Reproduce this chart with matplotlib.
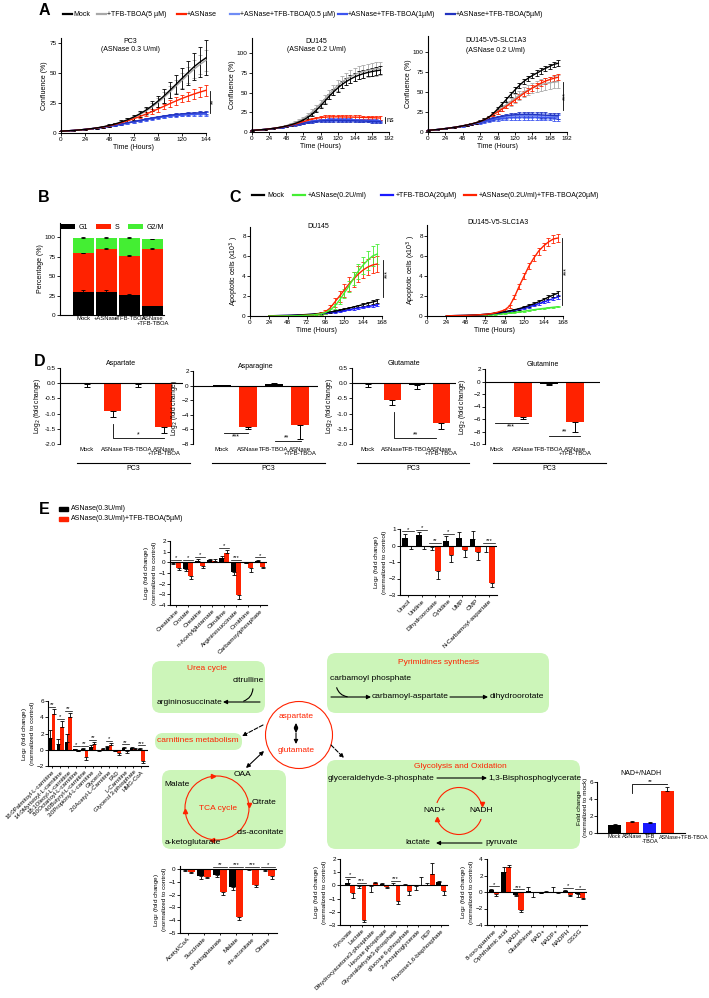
import numpy as np
import matplotlib
matplotlib.use('Agg')
import matplotlib.pyplot as plt
from matplotlib.patches import FancyBboxPatch, Circle, Arc

plt.rcParams['font.family'] = ['Liberation Sans', 'DejaVu Sans']
plt.rcParams['font.size'] = 5
plt.rcParams['axes.linewidth'] = 0.8

RED = '#ff2200'
GREEN = '#44ee33'
BLUE = '#1a1aff'
GRAY = '#a8a8a8'
BL1 = '#6f8cf5'
BL2 = '#3d55f0'
BL3 = '#2233c0'
BOX = '#ccf5b9'

# ---------------- data: panel A (confluence %) ----------------
t_pc3 = list(range(0, 145, 6))
pc3_mock = [1.5, 1.8, 2.1, 2.5, 3.0, 3.6, 4.3, 5.2, 6.3, 7.6, 9.2, 11.0, 13.2, 15.8, 18.8, 22.3, 26.3, 30.6, 35.4, 40.3, 45.3, 50.2, 55.0, 59.0, 62.5]
pc3_mock_err = [0.2, 0.2, 0.3, 0.3, 0.4, 0.5, 0.6, 0.7, 0.9, 1.1, 1.4, 1.7, 2.1, 2.6, 3.2, 3.9, 4.7, 5.6, 6.6, 7.7, 8.8, 10.0, 11.2, 12.5, 14.5]
pc3_tfb = [1.5, 1.8, 2.1, 2.5, 3.0, 3.5, 4.2, 5.0, 6.0, 7.3, 8.8, 10.6, 12.7, 15.2, 18.0, 21.4, 25.2, 29.4, 34.0, 38.8, 43.6, 48.4, 53.0, 57.0, 60.5]
pc3_tfb_err = [0.2, 0.2, 0.3, 0.3, 0.4, 0.5, 0.6, 0.7, 0.8, 1.0, 1.2, 1.5, 1.8, 2.2, 2.7, 3.2, 3.8, 4.4, 5.0, 5.6, 6.2, 6.8, 7.4, 8.0, 8.6]
pc3_asn = [1.5, 1.8, 2.1, 2.5, 3.0, 3.5, 4.2, 5.0, 6.0, 7.2, 8.6, 10.1, 11.8, 13.6, 15.6, 17.7, 19.9, 22.1, 24.4, 26.6, 28.7, 30.6, 32.4, 34.0, 35.5]
pc3_asn_err = [0.2, 0.2, 0.2, 0.3, 0.3, 0.4, 0.4, 0.5, 0.6, 0.7, 0.9, 1.0, 1.2, 1.4, 1.6, 1.9, 2.1, 2.4, 2.7, 3.0, 3.3, 3.6, 3.9, 4.2, 4.5]
pc3_b05 = [1.5, 1.8, 2.1, 2.5, 3.0, 3.5, 4.1, 4.8, 5.6, 6.5, 7.4, 8.4, 9.4, 10.4, 11.3, 12.2, 13.0, 13.7, 14.3, 14.8, 15.2, 15.5, 15.8, 16.0, 16.2]
pc3_b1 = [1.5, 1.8, 2.1, 2.5, 3.0, 3.5, 4.1, 4.8, 5.6, 6.4, 7.3, 8.2, 9.2, 10.1, 11.0, 11.9, 12.7, 13.4, 14.0, 14.5, 14.9, 15.2, 15.5, 15.7, 15.8]
pc3_b5 = [1.5, 1.8, 2.1, 2.5, 3.0, 3.6, 4.2, 4.9, 5.7, 6.6, 7.5, 8.5, 9.5, 10.5, 11.5, 12.4, 13.3, 14.1, 14.8, 15.4, 15.9, 16.3, 16.6, 16.8, 17.0]
pc3_blue_err = [0.2, 0.2, 0.2, 0.3, 0.3, 0.3, 0.4, 0.4, 0.5, 0.5, 0.6, 0.6, 0.7, 0.7, 0.8, 0.8, 0.9, 0.9, 1.0, 1.0, 1.1, 1.1, 1.2, 1.2, 1.3]

t_du = list(range(0, 181, 6))
du_mock = [2.0, 2.4, 2.8, 3.3, 3.9, 4.6, 5.4, 6.4, 7.6, 9.0, 10.7, 12.8, 15.3, 18.5, 22.5, 27.5, 33.0, 39.0, 45.0, 50.5, 55.5, 60.0, 63.8, 67.0, 69.8, 72.0, 73.8, 75.3, 76.5, 77.5, 78.3]
du_mock_err = [0.3, 0.3, 0.3, 0.4, 0.4, 0.5, 0.5, 0.6, 0.7, 0.8, 0.9, 1.1, 1.3, 1.6, 2.0, 2.4, 2.8, 3.2, 3.6, 4.0, 4.3, 4.5, 4.7, 4.8, 4.9, 5.0, 5.0, 5.0, 5.0, 5.0, 5.0]
du_tfb = [2.0, 2.4, 2.8, 3.3, 3.9, 4.6, 5.5, 6.6, 8.0, 9.7, 11.8, 14.3, 17.3, 20.9, 25.2, 30.2, 35.8, 41.8, 47.8, 53.5, 58.7, 63.2, 67.0, 70.2, 72.8, 74.9, 76.6, 78.0, 79.1, 80.0, 80.7]
du_tfb_err = [0.3, 0.3, 0.4, 0.4, 0.5, 0.6, 0.7, 0.8, 1.0, 1.2, 1.5, 1.8, 2.2, 2.7, 3.3, 4.0, 4.7, 5.4, 6.0, 6.6, 7.1, 7.5, 7.8, 8.0, 8.2, 8.3, 8.4, 8.5, 8.5, 8.5, 8.5]
du_asn = [2.0, 2.4, 2.8, 3.3, 3.9, 4.6, 5.4, 6.3, 7.4, 8.6, 10.0, 11.5, 13.1, 14.7, 16.1, 17.3, 18.2, 18.8, 19.1, 19.2, 19.2, 19.1, 19.0, 18.9, 18.8, 18.7, 18.5, 18.3, 18.1, 17.9, 17.7]
du_asn_err = [0.3, 0.3, 0.3, 0.4, 0.4, 0.5, 0.5, 0.6, 0.7, 0.8, 0.9, 1.0, 1.2, 1.4, 1.6, 1.8, 2.0, 2.1, 2.2, 2.3, 2.3, 2.3, 2.3, 2.3, 2.3, 2.3, 2.3, 2.3, 2.3, 2.3, 2.3]
du_b05 = [2.0, 2.4, 2.8, 3.3, 3.9, 4.5, 5.2, 6.0, 6.9, 7.9, 9.0, 10.2, 11.4, 12.5, 13.4, 14.1, 14.6, 14.9, 15.1, 15.2, 15.2, 15.1, 15.0, 14.9, 14.8, 14.6, 14.4, 14.2, 14.0, 13.8, 13.6]
du_b1 = [2.0, 2.4, 2.8, 3.3, 3.9, 4.5, 5.3, 6.1, 7.0, 8.0, 9.2, 10.4, 11.6, 12.8, 13.8, 14.6, 15.2, 15.6, 15.8, 15.9, 15.9, 15.8, 15.7, 15.6, 15.5, 15.3, 15.1, 14.9, 14.7, 14.5, 14.3]
du_b5 = [2.0, 2.4, 2.8, 3.3, 3.8, 4.4, 5.1, 5.9, 6.8, 7.7, 8.7, 9.8, 10.9, 11.9, 12.8, 13.5, 14.0, 14.3, 14.5, 14.6, 14.6, 14.5, 14.4, 14.3, 14.2, 14.0, 13.8, 13.6, 13.4, 13.2, 13.0]
du_blue_err = [0.2, 0.2, 0.3, 0.3, 0.3, 0.4, 0.4, 0.5, 0.5, 0.6, 0.7, 0.8, 0.9, 1.0, 1.1, 1.2, 1.3, 1.4, 1.4, 1.5, 1.5, 1.5, 1.5, 1.5, 1.5, 1.5, 1.5, 1.5, 1.5, 1.5, 1.5]

sl_mock = [2.0, 2.5, 3.0, 3.6, 4.3, 5.0, 5.8, 6.7, 7.7, 8.8, 10.0, 11.5, 13.2, 15.5, 18.5, 23.0, 28.5, 34.5, 40.5, 46.5, 52.5, 58.0, 63.0, 67.0, 70.5, 73.5, 76.5, 79.5, 82.0, 84.5, 86.0]
sl_mock_err = [0.3, 0.3, 0.3, 0.4, 0.4, 0.5, 0.5, 0.6, 0.7, 0.8, 0.9, 1.0, 1.2, 1.4, 1.7, 2.0, 2.3, 2.6, 2.8, 3.0, 3.2, 3.3, 3.4, 3.4, 3.4, 3.4, 3.4, 3.4, 3.4, 3.4, 3.4]
sl_tfb = [2.0, 2.5, 3.0, 3.6, 4.3, 5.0, 5.8, 6.7, 7.7, 8.8, 10.0, 11.5, 13.2, 15.4, 18.0, 22.0, 26.0, 30.0, 34.0, 38.0, 42.0, 46.0, 49.5, 52.5, 55.0, 57.0, 59.0, 60.5, 61.5, 62.3, 63.0]
sl_tfb_err = [0.3, 0.3, 0.4, 0.4, 0.5, 0.6, 0.7, 0.8, 0.9, 1.0, 1.2, 1.4, 1.7, 2.0, 2.4, 2.9, 3.4, 3.9, 4.4, 4.9, 5.4, 5.8, 6.2, 6.5, 6.8, 7.0, 7.2, 7.4, 7.5, 7.6, 7.7]
sl_asn = [2.0, 2.5, 3.0, 3.6, 4.3, 5.0, 5.8, 6.7, 7.7, 8.8, 10.0, 11.5, 13.2, 15.4, 18.0, 21.5, 25.0, 28.5, 32.0, 36.0, 40.0, 44.0, 48.0, 51.5, 55.0, 58.0, 61.0, 63.5, 65.5, 67.2, 68.5]
sl_asn_err = [0.3, 0.3, 0.3, 0.4, 0.4, 0.5, 0.5, 0.6, 0.7, 0.8, 0.9, 1.0, 1.1, 1.3, 1.5, 1.7, 1.9, 2.1, 2.3, 2.5, 2.7, 2.9, 3.0, 3.1, 3.2, 3.3, 3.4, 3.5, 3.5, 3.5, 3.5]
sl_b05 = [2.0, 2.5, 3.0, 3.6, 4.3, 5.0, 5.8, 6.6, 7.5, 8.5, 9.6, 10.8, 12.1, 13.5, 14.9, 16.2, 17.4, 18.4, 19.2, 19.8, 20.2, 20.4, 20.5, 20.5, 20.4, 20.3, 20.1, 19.9, 19.7, 19.5, 19.3]
sl_b1 = [2.0, 2.5, 3.0, 3.6, 4.2, 4.9, 5.7, 6.5, 7.4, 8.4, 9.4, 10.5, 11.7, 12.9, 14.1, 15.2, 16.2, 17.0, 17.6, 18.1, 18.4, 18.6, 18.7, 18.7, 18.6, 18.5, 18.3, 18.1, 17.9, 17.7, 17.5]
sl_b5 = [2.0, 2.5, 3.0, 3.6, 4.3, 5.0, 5.8, 6.7, 7.7, 8.8, 10.0, 11.3, 12.7, 14.2, 15.7, 17.1, 18.4, 19.5, 20.4, 21.1, 21.5, 21.8, 21.9, 21.9, 21.8, 21.6, 21.4, 21.1, 20.8, 20.5, 20.2]
sl_blue_err = [0.3, 0.3, 0.3, 0.4, 0.4, 0.5, 0.5, 0.6, 0.7, 0.8, 0.9, 1.0, 1.2, 1.4, 1.6, 1.8, 2.0, 2.2, 2.4, 2.6, 2.8, 3.0, 3.1, 3.2, 3.3, 3.4, 3.4, 3.4, 3.4, 3.4, 3.4]

# ---------------- panel B (cell cycle %) ----------------
b_groups = ['Mock', '+ASNase', '+TFB-TBOA', 'ASNase\n+TFB-TBOA']
b_g1 = [30, 30, 26, 11]
b_s = [49, 55, 50, 74]
b_g2m = [20, 14, 23, 12]
b_g1_err = [1.5, 2.5, 1.0, 1.0]
b_s_err = [1.0, 1.2, 1.0, 0.8]
b_g2m_err = [1.5, 1.5, 1.5, 0.6]

# ---------------- panel C (apoptotic cells x10^3) ----------------
t_c = list(range(24, 163, 6))
c1_mock = [0.02, 0.03, 0.04, 0.05, 0.06, 0.08, 0.10, 0.12, 0.15, 0.18, 0.22, 0.27, 0.33, 0.40, 0.48, 0.57, 0.67, 0.78, 0.90, 1.02, 1.14, 1.27, 1.40, 1.52]
c1_mock_err = [0.01, 0.01, 0.01, 0.01, 0.02, 0.02, 0.02, 0.03, 0.03, 0.04, 0.04, 0.05, 0.06, 0.07, 0.08, 0.09, 0.10, 0.11, 0.12, 0.13, 0.14, 0.15, 0.16, 0.17]
c1_asn = [0.00, 0.00, 0.01, 0.01, 0.02, 0.02, 0.03, 0.05, 0.07, 0.10, 0.15, 0.22, 0.35, 0.60, 1.00, 1.60, 2.30, 3.00, 3.80, 4.50, 5.10, 5.60, 6.00, 6.20]
c1_asn_err = [0.01, 0.01, 0.01, 0.01, 0.01, 0.01, 0.02, 0.02, 0.03, 0.04, 0.05, 0.07, 0.10, 0.15, 0.25, 0.35, 0.45, 0.55, 0.65, 0.75, 0.85, 0.95, 1.00, 1.00]
c1_tfb = [0.02, 0.03, 0.04, 0.05, 0.06, 0.07, 0.09, 0.11, 0.13, 0.16, 0.19, 0.23, 0.28, 0.34, 0.40, 0.47, 0.55, 0.63, 0.71, 0.79, 0.87, 0.95, 1.02, 1.10]
c1_tfb_err = [0.01, 0.01, 0.01, 0.01, 0.01, 0.01, 0.02, 0.02, 0.02, 0.03, 0.03, 0.03, 0.04, 0.04, 0.05, 0.05, 0.06, 0.06, 0.07, 0.07, 0.08, 0.08, 0.09, 0.09]
c1_combo = [0.00, 0.00, 0.01, 0.01, 0.02, 0.02, 0.03, 0.05, 0.07, 0.10, 0.16, 0.25, 0.42, 0.80, 1.40, 2.00, 2.60, 3.20, 3.70, 4.20, 4.60, 4.90, 5.10, 5.20]
c1_combo_err = [0.01, 0.01, 0.01, 0.01, 0.01, 0.02, 0.02, 0.03, 0.04, 0.06, 0.08, 0.12, 0.18, 0.30, 0.45, 0.55, 0.65, 0.70, 0.75, 0.80, 0.80, 0.80, 0.80, 0.80]

c2_mock = [0.02, 0.03, 0.04, 0.05, 0.06, 0.08, 0.10, 0.13, 0.17, 0.22, 0.28, 0.35, 0.43, 0.52, 0.62, 0.74, 0.88, 1.04, 1.22, 1.42, 1.64, 1.88, 2.10, 2.30]
c2_mock_err = [0.01, 0.01, 0.01, 0.01, 0.02, 0.02, 0.02, 0.03, 0.03, 0.04, 0.04, 0.05, 0.06, 0.07, 0.08, 0.09, 0.10, 0.12, 0.14, 0.16, 0.18, 0.20, 0.22, 0.25]
c2_asn = [0.01, 0.01, 0.02, 0.03, 0.04, 0.05, 0.06, 0.08, 0.10, 0.13, 0.16, 0.20, 0.25, 0.30, 0.36, 0.42, 0.49, 0.56, 0.63, 0.70, 0.76, 0.82, 0.88, 0.93]
c2_asn_err = [0.01, 0.01, 0.01, 0.01, 0.01, 0.01, 0.01, 0.01, 0.02, 0.02, 0.02, 0.02, 0.03, 0.03, 0.03, 0.03, 0.04, 0.04, 0.04, 0.04, 0.05, 0.05, 0.05, 0.05]
c2_tfb = [0.02, 0.03, 0.04, 0.05, 0.06, 0.08, 0.10, 0.13, 0.16, 0.21, 0.26, 0.32, 0.40, 0.48, 0.57, 0.67, 0.79, 0.92, 1.07, 1.23, 1.40, 1.57, 1.74, 1.90]
c2_tfb_err = [0.01, 0.01, 0.01, 0.01, 0.02, 0.02, 0.02, 0.03, 0.03, 0.04, 0.04, 0.05, 0.05, 0.06, 0.07, 0.08, 0.09, 0.10, 0.11, 0.12, 0.13, 0.14, 0.15, 0.16]
c2_combo = [0.02, 0.03, 0.04, 0.05, 0.06, 0.08, 0.10, 0.13, 0.17, 0.22, 0.30, 0.45, 0.60, 1.00, 1.90, 3.00, 4.00, 5.00, 5.80, 6.50, 7.00, 7.40, 7.70, 7.80]
c2_combo_err = [0.01, 0.01, 0.01, 0.01, 0.02, 0.02, 0.02, 0.03, 0.04, 0.05, 0.06, 0.08, 0.10, 0.15, 0.20, 0.25, 0.30, 0.30, 0.30, 0.35, 0.35, 0.40, 0.40, 0.40]

# ---------------- panel D (log2 fold change, PC3) ----------------
d_groups = ['Mock', 'ASNase', 'TFB-TBOA', 'ASNase\n+TFB-TBOA']
d_colors = ['k', RED, 'k', RED]
asp_vals = [-0.02, -0.92, -0.02, -1.43]
asp_err = [0.11, 0.18, 0.11, 0.22]
asn_vals = [0.02, -5.7, 0.18, -5.4]
asn_err = [0.02, 0.25, 0.18, 1.9]
glu_vals = [-0.02, -0.55, -0.05, -1.3]
glu_err = [0.09, 0.17, 0.15, 0.2]
gln_vals = [-0.02, -5.7, -0.4, -6.4]
gln_err = [0.05, 0.3, 0.15, 1.7]

# ---------------- panel E (metabolites) ----------------
urea_cats = ['Creatinine', 'Orotate', 'Creatine', 'n-Acetylglutamate', 'Citrulline', 'Argininosuccinate', 'Ornithine', 'Carbamoylphosphate']
urea_blk = [-0.1, -0.65, 0.15, 0.25, 0.45, -0.95, -0.05, 0.1]
urea_blk_err = [0.1, 0.12, 0.15, 0.1, 0.1, 0.2, 0.05, 0.15]
urea_red = [-0.5, -1.3, -0.3, 0.15, 0.9, -3.1, -0.55, -0.4]
urea_red_err = [0.2, 0.3, 0.2, 0.15, 0.25, 0.3, 0.35, 0.1]
urea_stars = ['*', '*', '*', '', '*', '***', '', '*']

pyr_cats = ['Uracil', 'Uridine', 'Dihydroorotate', 'Cytidine', 'UMP', 'CMP', 'N-Carbamoyl-aspartate']
pyr_blk = [0.45, 0.65, -0.1, 0.3, 0.45, 0.4, -0.05]
pyr_blk_err = [0.25, 0.15, 0.15, 0.25, 0.35, 0.5, 0.35]
pyr_red = [-0.05, -0.05, -1.55, -0.6, -0.25, -0.4, -2.3]
pyr_red_err = [0.15, 0.15, 0.45, 0.4, 0.45, 0.5, 0.2]
pyr_stars = ['*', '*', '**', '*', '', '', '***']

carn_cats = ['16:0Palmitoyl-L-carnitine', '14:0Myristoyl-L-carnitine', '18:1Oleoyl-L-carnitine', '8:0Octanoyl-L-carnitine',
             '4:0Butyryl-L-carnitine', '3:0Propionyl-L-carnitine', 'Glycerol', '2:0Acetyl-L-Carnitine', 'FAD',
             'L-Carnitine', 'Glycerol 3-phosphate', 'HMG-CoA']
carn_blk = [1.5, 0.7, 1.0, 0.05, 0.1, 0.4, -0.05, 0.3, -0.1, 0.25, 0.2, 0.15]
carn_blk_err = [0.9, 0.6, 0.9, 0.1, 0.1, 0.15, 0.1, 0.15, 0.1, 0.15, 0.1, 0.1]
carn_red = [4.4, 2.8, 4.0, -0.1, -0.9, 0.7, 0.1, 0.6, -0.4, -0.15, 0.15, -1.4]
carn_red_err = [0.6, 0.7, 0.5, 0.1, 0.3, 0.2, 0.1, 0.2, 0.2, 0.2, 0.1, 0.2]
carn_stars = ['**', '*', '**', '*', '**', '**', '', '*', '', '**', '', '***']

tca_cats = ['Acetyl/CoA', 'Succinate', 'α-Ketoglutarate', 'Malate', 'cis-aconitate', 'Citrate']
tca_blk = [-0.05, -0.55, -0.45, -1.4, -0.02, -0.05]
tca_blk_err = [0.1, 0.25, 0.15, 0.2, 0.05, 0.1]
tca_red = [-0.2, -0.6, -1.8, -3.75, -1.2, -0.55]
tca_red_err = [0.1, 0.1, 0.2, 0.25, 0.2, 0.2]
tca_stars = ['', '', '**', '***', '***', '*']

gly_cats = ['Pyruvate', 'Lactate', 'Dihydroxyacetone3-phosphate', 'Hexose phosphate', 'Glyceraldehyde3-phosphate',
            'glucose 6-phosphate', '2-phosphoglycerate', 'PEP', 'Fructose1,6-bisphosphate']
gly_blk = [0.2, -0.05, -0.05, 0.1, 0.05, 0.05, -0.05, 0.05, 0.25]
gly_blk_err = [0.25, 0.15, 0.45, 0.1, 0.1, 0.05, 0.3, 0.1, 0.1]
gly_red = [-0.6, -2.6, 0.15, -0.1, -1.2, -0.4, 0.05, 0.9, -0.4]
gly_red_err = [0.35, 0.2, 0.1, 0.1, 0.2, 0.3, 0.6, 0.8, 0.3]
gly_stars = ['*', '***', '', '', '***', '', '', '', '']

rdx_cats = ['8-oxo-guanine', 'Ophthalmic acid', 'NADH', 'Glutathione', 'NAD+', 'NADP+', 'NADPH', 'GSSG']
rdx_blk = [0.2, 2.4, -0.35, 0.15, -0.1, 0.05, 0.1, -0.3]
rdx_blk_err = [0.15, 0.6, 0.15, 0.45, 0.05, 0.6, 0.1, 0.25]
rdx_red = [-0.3, 3.0, -2.2, -0.05, 0.05, -0.05, -0.35, -0.7]
rdx_red_err = [0.15, 0.25, 0.25, 0.6, 0.05, 0.05, 0.15, 0.2]
rdx_stars = ['*', '', '***', '', '', '', '*', '*']

nad_groups = ['Mock', 'ASNase', 'TFB\n-TBOA', 'ASNase+TFB-TBOA']
nad_vals = [1.0, 1.25, 1.15, 4.9]
nad_err = [0.08, 0.12, 0.1, 0.5]
nad_colors = ['k', RED, BLUE, RED]

# ------------------------------------------------------------
W, H = 709, 998
fig = plt.figure(figsize=(W / 100, H / 100), dpi=100)

ov = fig.add_axes([0, 0, 1, 1], zorder=-5)
ov.set_xlim(0, W)
ov.set_ylim(H, 0)
ov.axis('off')


def px_ax(l, t, w, h):
    ax = fig.add_axes([l / W, 1 - (t + h) / H, w / W, h / H])
    ax.set_facecolor('none')
    ax.spines['top'].set_visible(False)
    ax.spines['right'].set_visible(False)
    ax.tick_params(labelsize=4.6, length=2, width=0.6, pad=1)
    return ax


def course(ax, t, y, e, color, lw=1.0):
    ax.errorbar(t, y, yerr=e, color=color, lw=lw, elinewidth=0.6,
                capsize=1.3, capthick=0.6, clip_on=False)


def one_sided(vals, errs):
    lo = [e if v < 0 else 0 for v, e in zip(vals, errs)]
    hi = [e if v >= 0 else 0 for v, e in zip(vals, errs)]
    return [lo, hi]


def grouped(ax, cats, blk, blk_e, red, red_e, stars, ylim, yticks, xlim, lab_fs=4.6):
    x = np.arange(len(cats))
    w = 0.42
    ax.bar(x - w / 2, blk, w, color='k')
    ax.bar(x + w / 2, red, w, color=RED)
    ax.errorbar(x - w / 2, blk, yerr=one_sided(blk, blk_e), fmt='none', ecolor='k',
                elinewidth=0.6, capsize=1.2, capthick=0.6)
    ax.errorbar(x + w / 2, red, yerr=one_sided(red, red_e), fmt='none', ecolor='k',
                elinewidth=0.6, capsize=1.2, capthick=0.6)
    ax.axhline(0, color='k', lw=0.8)
    span = ylim[1] - ylim[0]
    for i, s in enumerate(stars):
        if s:
            top = max(0, blk[i] + (blk_e[i] if blk[i] >= 0 else 0),
                      red[i] + (red_e[i] if red[i] >= 0 else 0)) + 0.04 * span
            ax.plot([i - w, i + w], [top, top], color='k', lw=0.5)
            ax.text(i, top - 0.01 * span, s, ha='center', va='bottom', fontsize=4.2)
    ax.set_xticks(x)
    ax.set_xticklabels(cats, rotation=45, ha='right', rotation_mode='anchor', fontsize=lab_fs)
    ax.tick_params(axis='x', length=1.5)
    ax.set_xlim(*xlim)
    ax.set_ylim(*ylim)
    ax.set_yticks(yticks)
    ax.set_ylabel('Log$_2$ (fold change)\n(normalized to control)', fontsize=4.6, labelpad=1)


# panel letters
for letter, (lx, ly) in zip('ABCDE', [(44, 10), (44, 197), (235, 197), (40, 362), (44, 510)]):
    ov.text(lx, ly, letter, fontsize=11.5, fontweight='bold', va='center', ha='center')

# ---------------- panel A ----------------
a_leg = [('Mock', 'k'), ('+TFB-TBOA(5 µM)', GRAY), ('+ASNase', RED),
         ('+ASNase+TFB-TBOA(0.5 µM)', BL1), ('+ASNase+TFB-TBOA(1µM)', BL2), ('+ASNase+TFB-TBOA(5µM)', BL3)]
for (lab, col), lx in zip(a_leg, [63, 97, 177, 230, 338, 446]):
    ov.plot([lx, lx + 9], [14, 14], color=col, lw=1.6)
    ov.text(lx + 10, 14, lab, va='center', fontsize=5)

a1 = px_ax(61, 38, 145, 95)
course(a1, t_pc3, pc3_tfb, pc3_tfb_err, GRAY)
course(a1, t_pc3, pc3_b05, pc3_blue_err, BL1)
course(a1, t_pc3, pc3_b1, pc3_blue_err, BL2)
course(a1, t_pc3, pc3_b5, pc3_blue_err, BL3)
course(a1, t_pc3, pc3_asn, pc3_asn_err, RED)
course(a1, t_pc3, pc3_mock, pc3_mock_err, 'k')
a1.set_xlim(0, 144)
a1.set_ylim(0, 79)
a1.set_xticks(range(0, 145, 24))
a1.set_yticks([0, 25, 50, 75])
a1.text(0.48, 1.0, 'PC3\n(ASNase 0.3 U/ml)', transform=a1.transAxes, ha='center', va='top', fontsize=5)
a1.plot([148, 148], [17, 35], color='k', lw=0.6, clip_on=False)
a1.text(152, 26, '**', rotation=90, ha='center', va='center', fontsize=5)

a2 = px_ax(252, 38, 137, 94)
course(a2, t_du, du_tfb, du_tfb_err, GRAY)
course(a2, t_du, du_b05, du_blue_err, BL1)
course(a2, t_du, du_b1, du_blue_err, BL2)
course(a2, t_du, du_b5, du_blue_err, BL3)
course(a2, t_du, du_asn, du_asn_err, RED)
course(a2, t_du, du_mock, du_mock_err, 'k')
a2.set_xlim(0, 192)
a2.set_ylim(0, 119)
a2.set_xticks(range(0, 193, 24))
a2.set_yticks([0, 25, 50, 75, 100])
a2.text(0.47, 1.0, 'DU145\n(ASNase 0.2 U/ml)', transform=a2.transAxes, ha='center', va='top', fontsize=5)
a2.plot([186, 186], [12, 19], color='k', lw=0.6, clip_on=False)
a2.text(189, 15, 'ns', ha='left', va='center', fontsize=5)

a3 = px_ax(428, 36, 139, 96)
course(a3, t_du, sl_tfb, sl_tfb_err, GRAY)
course(a3, t_du, sl_b05, sl_blue_err, BL1)
course(a3, t_du, sl_b1, sl_blue_err, BL2)
course(a3, t_du, sl_b5, sl_blue_err, BL3)
course(a3, t_du, sl_asn, sl_asn_err, RED)
course(a3, t_du, sl_mock, sl_mock_err, 'k')
a3.set_xlim(0, 192)
a3.set_ylim(0, 120)
a3.set_xticks(range(0, 193, 24))
a3.set_yticks([0, 25, 50, 75, 100])
a3.text(0.27, 0.99, 'DU145-V5-SLC1A3\n(ASNase 0.2 U/ml)', transform=a3.transAxes, ha='left', va='top',
        fontsize=5, linespacing=1.6)
a3.plot([186, 186], [28, 62], color='k', lw=0.6, clip_on=False)
a3.text(190, 45, '***', rotation=90, ha='center', va='center', fontsize=5)

for ax in (a1, a2, a3):
    ax.set_xlabel('Time (Hours)', fontsize=5, labelpad=1)
    ax.set_ylabel('Confluence (%)', fontsize=5, labelpad=1)

# ---------------- panel B ----------------
b = px_ax(60, 223, 104, 92)
xb = np.arange(len(b_groups))
bot_s = [g for g in b_g1]
bot_g2 = [g + s for g, s in zip(b_g1, b_s)]
b.bar(xb, b_g1, 0.92, color='k', label='G1')
b.bar(xb, b_s, 0.92, bottom=bot_s, color=RED, label='S')
b.bar(xb, b_g2m, 0.92, bottom=bot_g2, color=GREEN, label='G2/M')
b.errorbar(xb, b_g1, yerr=[[0] * 4, b_g1_err], fmt='none', ecolor='k', elinewidth=0.6, capsize=1.5, capthick=0.6)
b.errorbar(xb, bot_g2, yerr=[[0] * 4, b_s_err], fmt='none', ecolor='k', elinewidth=0.6, capsize=1.5, capthick=0.6)
b.errorbar(xb, [a + c for a, c in zip(bot_g2, b_g2m)], yerr=[[0] * 4, b_g2m_err], fmt='none', ecolor='k',
           elinewidth=0.6, capsize=1.5, capthick=0.6)
b.set_xlim(-1.02, 3.5)
b.set_ylim(0, 118)
b.set_yticks([0, 25, 50, 75, 100])
b.set_xticks(xb)
b.set_xticklabels(b_groups, fontsize=4.2, linespacing=0.9)
b.tick_params(axis='x', length=0)
b.set_ylabel('Percentage (%)', fontsize=5, labelpad=1)
b.legend(loc='upper center', bbox_to_anchor=(0.5, 1.06), ncol=3, frameon=False, fontsize=5,
         handlelength=2.2, handleheight=0.9, columnspacing=1.2, handletextpad=0.5)

# ---------------- panel C ----------------
c_leg = [('Mock', 'k'), ('+ASNase(0.2U/ml)', GREEN), ('+TFB-TBOA(20µM)', BLUE), ('+ASNase(0.2U/ml)+TFB-TBOA(20µM)', RED)]
for (lab, col), lx in zip(c_leg, [252, 293, 381, 464]):
    ov.plot([lx, lx + 12], [195, 195], color=col, lw=1.6)
    ov.text(lx + 15, 195, lab, va='center', fontsize=5)

c1 = px_ax(250, 227, 132, 89)
course(c1, t_c, c1_tfb, c1_tfb_err, BLUE)
course(c1, t_c, c1_mock, c1_mock_err, 'k')
course(c1, t_c, c1_combo, c1_combo_err, RED)
course(c1, t_c, c1_asn, c1_asn_err, GREEN)
c1.set_ylim(0, 8.9)
c1.text(0.52, 1.0, 'DU145', transform=c1.transAxes, ha='center', va='center', fontsize=5)
c1.plot([169, 169], [1.9, 5.6], color='k', lw=0.6, clip_on=False)
c1.text(175, 4.2, '***', rotation=90, ha='center', va='center', fontsize=5)

c2 = px_ax(427, 225, 136, 91)
course(c2, t_c, c2_asn, c2_asn_err, GREEN)
course(c2, t_c, c2_tfb, c2_tfb_err, BLUE)
course(c2, t_c, c2_mock, c2_mock_err, 'k')
course(c2, t_c, c2_combo, c2_combo_err, RED)
c2.set_ylim(0, 9.1)
c2.text(0.52, 1.03, 'DU145-V5-SLC1A3', transform=c2.transAxes, ha='center', va='center', fontsize=5)
c2.plot([167, 167], [1.1, 7.8], color='k', lw=0.6, clip_on=False)
c2.text(173, 4.5, '***', rotation=90, ha='center', va='center', fontsize=5)

for ax in (c1, c2):
    ax.set_xlim(0, 168)
    ax.set_xticks(range(0, 169, 24))
    ax.set_yticks([0, 2, 4, 6, 8])
    ax.set_xlabel('Time (Hours)', fontsize=5, labelpad=1)
    ax.set_ylabel('Apoptotic cells (x10$^3$ )', fontsize=5, labelpad=1)

# ---------------- panel D ----------------
d_specs = [
    ('Aspartate', asp_vals, asp_err, (60, 368, 123, 76), (-2, 0.5), [-2, -1.5, -1, -0.5, 0, 0.5], (-1.05, 3.75)),
    ('Asparagine', asn_vals, asn_err, (193, 371, 125, 73), (-8, 2), [-8, -6, -4, -2, 0, 2], (-1.1, 3.7)),
    ('Glutamate', glu_vals, glu_err, (352, 368, 104, 76), (-2, 0.5), [-2, -1.5, -1, -0.5, 0, 0.5], (-0.65, 3.6)),
    ('Glutamine', gln_vals, gln_err, (485, 369, 115, 75), (-10, 2), [-10, -8, -6, -4, -2, 0, 2], (-0.45, 3.95)),
]
d_axes = []
for title, vals, errs, box, ylim, yt, xlim in d_specs:
    ax = px_ax(*box)
    xd = np.arange(4)
    ax.bar(xd, vals, 0.68, color=d_colors)
    ax.errorbar(xd, vals, yerr=one_sided(vals, errs), fmt='none', ecolor='k', elinewidth=0.7,
                capsize=2.5, capthick=0.7)
    ax.axhline(0, color='k', lw=0.8)
    ax.spines['bottom'].set_visible(False)
    ax.set_xlim(*xlim)
    ax.set_ylim(*ylim)
    ax.set_yticks(yt)
    if ylim[0] == -2:
        ax.set_yticklabels(['-2.0', '-1.5', '-1.0', '-0.5', '0.0', '0.5'])
    ax.set_xticks(xd)
    ax.set_xticklabels(d_groups, fontsize=4.3, linespacing=0.9)
    ax.tick_params(axis='x', length=0, pad=2)
    ax.set_title(title, fontsize=5, pad=2)
    ax.set_ylabel('Log$_2$ (fold change)', fontsize=4.8, labelpad=1)
    d_axes.append(ax)

d1, d2, d3, d4 = d_axes
d1.plot([1, 1, 3], [-1.35, -1.81, -1.81], color='k', lw=0.6)
d1.text(2, -1.81, '*', ha='center', va='bottom', fontsize=5)
d2.plot([0.1, 1.0], [-6.5, -6.5], color='k', lw=0.6)
d2.text(0.55, -6.6, '***', ha='center', va='top', fontsize=5)
d2.plot([2.05, 3.05], [-7.6, -7.6], color='k', lw=0.6)
d2.text(2.5, -7.6, '**', ha='center', va='bottom', fontsize=5)
d3.plot([1.05, 1.05, 2.8], [-0.95, -1.8, -1.8], color='k', lw=0.6)
d3.text(1.95, -1.8, '**', ha='center', va='bottom', fontsize=5)
d4.plot([-0.05, 1.2], [-6.6, -6.6], color='k', lw=0.6)
d4.text(0.55, -6.7, '***', ha='center', va='top', fontsize=5)
d4.plot([2.0, 3.2], [-8.7, -8.7], color='k', lw=0.6)
d4.text(2.6, -8.7, '**', ha='center', va='bottom', fontsize=5)

for x0, x1 in [(77, 190), (212, 325), (357, 469), (493, 606)]:
    ov.plot([x0, x1], [463, 463], color='k', lw=0.8)
    ov.text((x0 + x1) / 2, 469, 'PC3', ha='center', va='center', fontsize=5)

# ---------------- panel E ----------------
ov.add_patch(plt.Rectangle((59, 507), 9, 4, color='k'))
ov.text(71, 509, 'ASNase(0.3U/ml)', va='center', fontsize=5)
ov.add_patch(plt.Rectangle((59, 517), 9, 4, color=RED))
ov.text(71, 519, 'ASNase(0.3U/ml)+TFB-TBOA(5µM)', va='center', fontsize=5)

e1 = px_ax(170, 541, 97, 64)
grouped(e1, urea_cats, urea_blk, urea_blk_err, urea_red, urea_red_err, urea_stars,
        (-4, 2), [-4, -3, -2, -1, 0, 1, 2], (-0.5, 7.55))
e2 = px_ax(400, 529, 97, 66)
grouped(e2, pyr_cats, pyr_blk, pyr_blk_err, pyr_red, pyr_red_err, pyr_stars,
        (-3, 1), [-3, -2, -1, 0, 1], (-0.6, 6.6))
e3 = px_ax(48, 701, 100, 65)
grouped(e3, carn_cats, carn_blk, carn_blk_err, carn_red, carn_red_err, carn_stars,
        (-2, 6), [-2, 0, 2, 4, 6], (-0.5, 11.8), lab_fs=4.3)
e4 = px_ax(180, 866, 97, 67)
grouped(e4, tca_cats, tca_blk, tca_blk_err, tca_red, tca_red_err, tca_stars,
        (-5, 0.25), [-5, -4, -3, -2, -1, 0], (-0.5, 5.55))
e5 = px_ax(340, 859, 108, 66)
grouped(e5, gly_cats, gly_blk, gly_blk_err, gly_red, gly_red_err, gly_stars,
        (-3, 2), [-3, -2, -1, 0, 1, 2], (-0.9, 8.6), lab_fs=4.4)
e6 = px_ax(487, 859, 100, 66)
grouped(e6, rdx_cats, rdx_blk, rdx_blk_err, rdx_red, rdx_red_err, rdx_stars,
        (-4, 4), [-4, -2, 0, 2, 4], (-0.55, 7.55))

nad = px_ax(597, 782, 88, 51)
xn = np.arange(4)
nad.bar(xn, nad_vals, 0.72, color=nad_colors)
nad.errorbar(xn, nad_vals, yerr=[[0] * 4, nad_err], fmt='none', ecolor='k', elinewidth=0.6, capsize=1.5, capthick=0.6)
nad.set_xlim(-1.0, 4.0)
nad.set_ylim(0, 6)
nad.set_yticks([0, 2, 4, 6])
nad.set_xticks(xn)
nad.set_xticklabels(nad_groups[:3] + [''], fontsize=4.0, linespacing=0.9)
nad.text(2.55, -0.25, nad_groups[3], ha='left', va='top', fontsize=3.9, clip_on=False)
nad.tick_params(axis='x', length=0)
nad.set_title('NAD+/NADH', fontsize=5, pad=5)
nad.set_ylabel('Fold change\n(normalized to mock)', fontsize=4.6, labelpad=1)
nad.plot([1, 1, 3], [4.7, 5.76, 5.76], color='k', lw=0.6)
nad.text(2, 5.76, '**', ha='center', va='bottom', fontsize=4.5)

# ---------------- pathway diagram ----------------
def box(x, y, w, h, r=9):
    ov.add_patch(FancyBboxPatch((x, y), w, h, boxstyle='round,pad=0,rounding_size=%d' % r,
                                fc=BOX, ec='none'))


def arrow(x0, y0, x1, y1, style='-|>', ls='-', conn=None, lw=0.8):
    props = dict(arrowstyle=style, lw=lw, color='k', linestyle=ls, mutation_scale=6, shrinkA=0, shrinkB=0)
    if conn:
        props['connectionstyle'] = conn
    ov.annotate('', xy=(x1, y1), xytext=(x0, y0), arrowprops=props)


FS = 6
box(152, 661, 113, 52)
box(155, 733, 87, 17, 8)
box(327, 653, 222, 60)
box(162, 770, 124, 79)
box(327, 760, 253, 89)

ov.text(207, 668, 'Urea cycle', color=RED, ha='center', va='center', fontsize=FS)
ov.text(248, 680, 'citrulline', ha='center', va='center', fontsize=FS)
ov.text(157, 702, 'argininosuccinate', ha='left', va='center', fontsize=FS)
arrow(260, 702, 223, 702)
ov.annotate('', xy=(241, 702), xytext=(253, 686),
            arrowprops=dict(arrowstyle='-', lw=0.8, color='k', connectionstyle='arc3,rad=-0.4'))

ov.text(198, 741, 'carnitines metabolism', color=RED, ha='center', va='center', fontsize=FS)

ov.add_patch(Circle((299, 735), 33.5, fill=False, ec=RED, lw=0.8))
ov.text(296, 717, 'aspartate', color=RED, ha='center', va='center', fontsize=FS)
ov.text(296, 750, 'glutamate', color=RED, ha='center', va='center', fontsize=FS)
arrow(296, 733, 296, 723, style='<|-|>')
arrow(296, 733, 296, 744, style='-|>')
arrow(263, 725, 242, 736, ls='--')
arrow(331, 745, 344, 758, ls='--')
arrow(264, 751, 246, 768, style='<|-|>')

ov.text(438, 663, 'Pyrimidines synthesis', color=RED, ha='center', va='center', fontsize=FS)
ov.text(330, 679, 'carbamoyl phosphate', ha='left', va='center', fontsize=FS)
ov.annotate('', xy=(350, 697), xytext=(336, 685),
            arrowprops=dict(arrowstyle='-', lw=0.8, color='k', connectionstyle='arc3,rad=0.4'))
arrow(331, 697, 371, 697)
ov.text(372, 697, 'carbamoyl-aspartate', ha='left', va='center', fontsize=FS)
arrow(450, 697, 488, 697)
ov.text(490, 697, 'dihydroorotate', ha='left', va='center', fontsize=FS)

ov.text(460, 766, 'Glycolysis and Oxidation', color=RED, ha='center', va='center', fontsize=FS)
ov.text(434, 778, 'glyceraldehyde-3-phosphate', ha='right', va='center', fontsize=FS)
arrow(437, 778, 487, 778)
ov.text(488, 778, '1,3-Bisphosphoglycerate', ha='left', va='center', fontsize=FS)
ov.add_patch(Arc((459, 811), 47, 47, theta1=200, theta2=340, ec=RED, lw=0.8))
ov.add_patch(Arc((459, 811), 47, 47, theta1=20, theta2=160, ec=RED, lw=0.8))
ov.plot([481.5], [803.5], marker='v', color=RED, ms=3)
ov.plot([436.5], [818.5], marker='^', color=RED, ms=3)
ov.text(435, 811, 'NAD+', ha='center', va='center', fontsize=FS)
ov.text(481, 811, 'NADH', ha='center', va='center', fontsize=FS)
ov.text(418, 843, 'lactate', ha='center', va='center', fontsize=FS)
arrow(482, 843, 436, 843)
ov.text(485, 842, 'pyruvate', ha='left', va='center', fontsize=FS)

ov.add_patch(Circle((217, 808), 32, fill=False, ec=RED, lw=0.8))
ov.plot([213], [776], marker='>', color=RED, ms=3)
ov.plot([249], [805], marker='v', color=RED, ms=3)
ov.plot([212], [840], marker='<', color=RED, ms=3)
ov.plot([185], [811], marker='^', color=RED, ms=3)
ov.text(242, 775, 'OAA', ha='center', va='center', fontsize=FS)
ov.text(177, 785, 'Malate', ha='center', va='center', fontsize=FS)
ov.text(252, 803, 'Citrate', ha='left', va='center', fontsize=FS)
ov.text(218, 808, 'TCA cycle', color=RED, ha='center', va='center', fontsize=FS)
ov.text(284, 832, 'cis-aconitate', ha='right', va='center', fontsize=FS)
ov.text(165, 843, 'a-ketoglutarate', ha='left', va='center', fontsize=FS)

fig.savefig('out.png', dpi=100)
